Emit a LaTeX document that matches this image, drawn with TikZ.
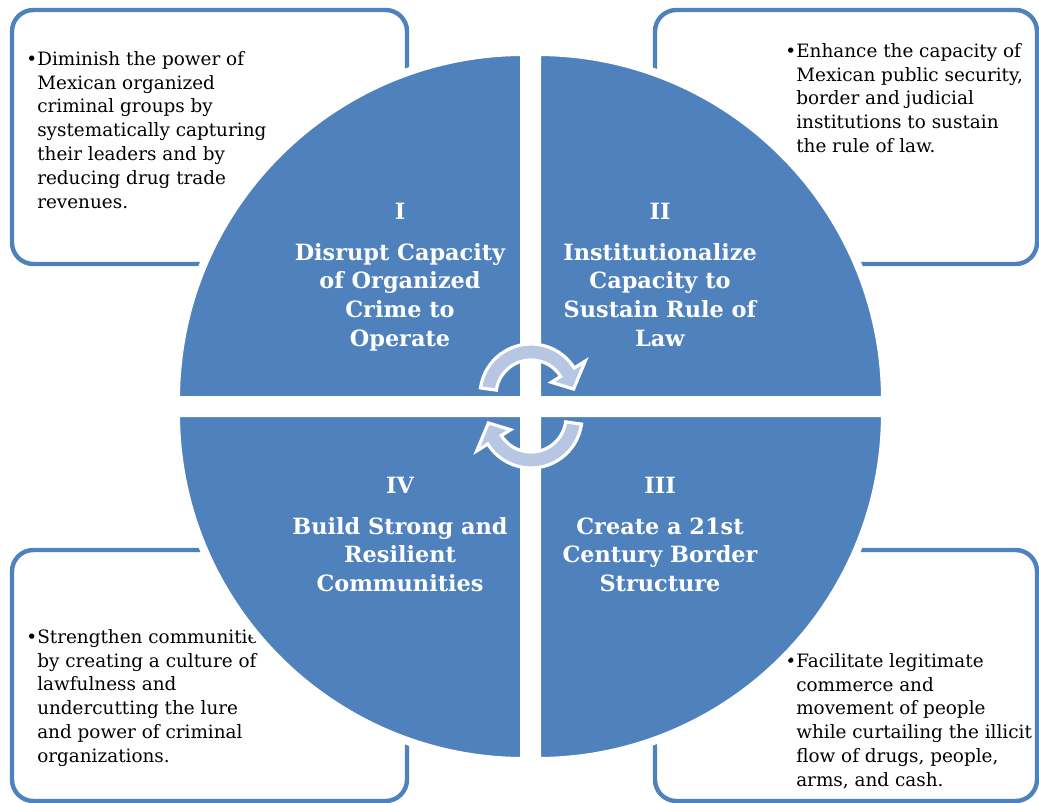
\documentclass[tikz,border=0pt]{standalone}
\usepackage{fontspec}
\setmainfont{DejaVu Serif}

\tikzset{
  quad/.style={fill={rgb, 255:red, 79; green, 129; blue, 189 }, draw=white, line width=6pt},
  goalbox/.style={draw={rgb, 255:red, 79; green, 129; blue, 189 }, fill=white, line width=3.3pt, rounded corners=16pt},
  bullettext/.style={anchor=north west, inner sep=0pt, align=left, font=\fontsize{13.8}{17.85}\selectfont},
  headtext/.style={anchor=north, inner sep=0pt, align=center, text=white, font=\fontsize{16.8}{21.5}\selectfont\bfseries},
  arrowshape/.style={fill={rgb, 255:red, 183; green, 198; blue, 227 }, draw=white, line width=2.4pt, line join=miter},
  % pics do not take the picture's yscale, so angles here count upwards
  cyclearrow/.pic={
    \path [arrowshape] (172:51) arc [start angle=172, end angle=32, radius=51] -- (32:64) -- (8:43) -- (32:24) -- (32:35) arc [start angle=32, end angle=172, radius=35] -- cycle ;
  }
}

\begin{document}
\begin{tikzpicture}[x=0.75pt,y=0.75pt,yscale=-1,xscale=1]
\useasboundingbox (0,0) rectangle (1039,803);

%Shape: Rounded Rect [id:boxI]
\draw [goalbox] (12,10) rectangle (407,264) ;
%Shape: Rounded Rect [id:boxII]
\draw [goalbox] (655,10) rectangle (1037,264) ;
%Shape: Rounded Rect [id:boxIV]
\draw [goalbox] (12,550) rectangle (407,801) ;
%Shape: Rounded Rect [id:boxIII]
\draw [goalbox] (655,550) rectangle (1037,801) ;

% Text Node
\draw (37,51) node (txtI) [bullettext] {\llap{•}Diminish the power of\\Mexican organized\\criminal groups by\\systematically capturing\\their leaders and by\\reducing drug trade\\revenues.};
% Text Node
\draw (796,43) node (txtII) [bullettext] {\llap{•}Enhance the capacity of\\Mexican public security,\\border and judicial\\institutions to sustain\\the rule of law.};
% Text Node
\draw (37,629) node (txtIV) [bullettext] {\llap{•}Strengthen communities\\by creating a culture of\\lawfulness and\\undercutting the lure\\and power of criminal\\organizations.};
% Text Node
\draw (796,653) node (txtIII) [bullettext] {\llap{•}Facilitate legitimate\\commerce and\\movement of people\\while curtailing the illicit\\flow of drugs, people,\\arms, and cash.};

%Shape: Quarter Circle [id:quadI]
\draw [quad] (524,400) -- (176,400) arc [start angle=180, end angle=270, radius=348] -- cycle ;
%Shape: Quarter Circle [id:quadII]
\draw [quad] (537,400) -- (537,52) arc [start angle=270, end angle=360, radius=348] -- cycle ;
%Shape: Quarter Circle [id:quadIII]
\draw [quad] (537,413) -- (885,413) arc [start angle=0, end angle=90, radius=348] -- cycle ;
%Shape: Quarter Circle [id:quadIV]
\draw [quad] (524,413) -- (524,761) arc [start angle=90, end angle=180, radius=348] -- cycle ;

% Text Node
\draw (400,203) node (headI) [headtext] {I\\[9pt]Disrupt Capacity\\of Organized\\Crime to\\Operate};
% Text Node
\draw (660,203) node (headII) [headtext] {II\\[9pt]Institutionalize\\Capacity to\\Sustain Rule of\\Law};
% Text Node
\draw (660,477) node (headIII) [headtext] {III\\[9pt]Create a 21st\\Century Border\\Structure};
% Text Node
\draw (400,477) node (headIV) [headtext] {IV\\[9pt]Build Strong and\\Resilient\\Communities};

%Shape: Circular Arrows
\pic (cycTop) at (531,395) {cyclearrow};
\pic (cycBottom) [rotate=180] at (531,417) {cyclearrow};

\end{tikzpicture}
\end{document}
